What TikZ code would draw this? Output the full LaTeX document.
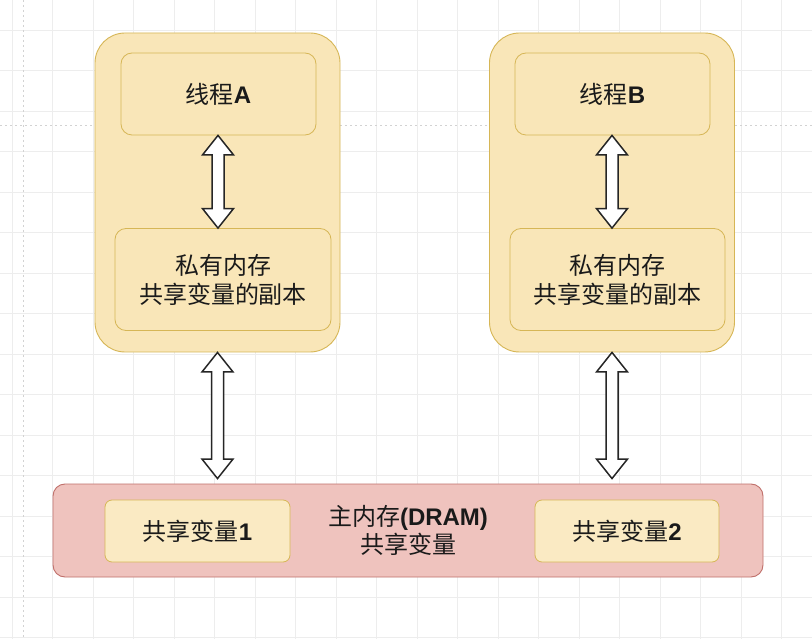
\documentclass[tikz,border=0pt]{standalone}
\usepackage{fontspec}
\setmainfont{Liberation Sans}
\newfontfamily\cjk{Noto Sans CJK SC}
\usetikzlibrary{calc}
\definecolor{yfill}{HTML}{F9E6B8}
\definecolor{ystroke}{HTML}{D6B656}
\definecolor{rfill}{HTML}{EFC3BE}
\definecolor{rstroke}{HTML}{C0706B}
\definecolor{gridc}{HTML}{EDEDED}
\definecolor{txt}{HTML}{1A1A1A}
\tikzset{
  gridline/.style={draw=gridc, line width=0.8pt},
  pagebreak/.style={draw=gray!35, line width=0.6pt, dash pattern=on 2pt off 3pt},
  outerbox/.style={draw=ystroke, fill=yfill, line width=0.9pt, rounded corners=30pt, minimum width=245pt, minimum height=319pt, inner sep=0pt},
  innerbox/.style={draw=ystroke, fill=yfill, line width=0.8pt, rounded corners=11pt, inner sep=0pt, align=center, text=txt, font=\fontsize{24}{29}\selectfont},
  membox/.style={draw=rstroke, fill=rfill, line width=0.9pt, rounded corners=12pt, minimum width=710pt, minimum height=93pt, inner sep=0pt, align=center, text=txt, font=\fontsize{24}{28.5}\selectfont},
  varbox/.style={draw=ystroke, fill=yfill!85!white, line width=0.8pt, rounded corners=7pt, minimum width=185pt, minimum height=62pt, inner sep=0pt, text=txt, font=\fontsize{24}{29}\selectfont},
  barrow/.style={draw=black!85, fill=white, line width=1.5pt, line join=miter}
}
\newcommand\dblarrow[2]{%
  \draw[barrow] let \p1=(#1), \p2=(#2) in
    (\x1,\y1) -- ++(-15.5pt,-19.5pt) -- ++(9.5pt,0pt) -- (\x1-6pt,\y2+19.5pt)
    -- ++(-9.5pt,0pt) -- (\x1,\y2) -- ++(15.5pt,19.5pt) -- ++(-9.5pt,0pt)
    -- (\x1+6pt,\y1-19.5pt) -- ++(9.5pt,0pt) -- cycle;}
\begin{document}
\begin{tikzpicture}[x=1pt,y=-1pt]
\useasboundingbox (0,0) rectangle (812,639);
\fill[white] (0,0) rectangle (812,639);
% grid
\foreach \i in {0,...,19} \draw[gridline] ({12+40.5*\i},0) -- ({12+40.5*\i},639);
\foreach \j in {0,...,15} \draw[gridline] (0,{30+40.5*\j}) -- (812,{30+40.5*\j});
\draw[pagebreak] (0,125) -- (812,125);
\draw[pagebreak] (23,0) -- (23,639);

% thread A
\node[outerbox] (oA) at (217.5,192.5) {};
\node[innerbox, minimum width=195pt, minimum height=82pt] (tA) at (218.5,94) {{\cjk 线程}\textbf{A}};
\node[innerbox, minimum width=216pt, minimum height=102pt] (pA) at (223,279.5) {{\cjk 私有内存}\\{\cjk 共享变量的副本}};
% thread B
\node[outerbox] (oB) at (612,192.5) {};
\node[innerbox, minimum width=195pt, minimum height=82pt] (tB) at (612.5,94) {{\cjk 线程}\textbf{B}};
\node[innerbox, minimum width=215pt, minimum height=102pt] (pB) at (617.5,279.5) {{\cjk 私有内存}\\{\cjk 共享变量的副本}};
% main memory
\node[membox] (mem) at (408,530.5) {{\cjk 主内存}\textbf{(DRAM)}\\{\cjk 共享变量}};
\node[varbox] (v1) at (197.5,531) {{\cjk 共享变量}\textbf{1}};
\node[varbox, minimum width=184pt] (v2) at (627,531) {{\cjk 共享变量}\textbf{2}};

% arrows
\coordinate (aTop) at ($(tA.south)+(-0.5,0)$);
\coordinate (aBot) at (aTop |- pA.north);
\dblarrow{aTop}{aBot}
\coordinate (bTop) at ($(tB.south)+(-0.5,0)$);
\coordinate (bBot) at (bTop |- pB.north);
\dblarrow{bTop}{bBot}
\coordinate (cTop) at (oA.south);
\coordinate (cBot) at ($(cTop |- mem.north)+(0,-5)$);
\dblarrow{cTop}{cBot}
\coordinate (dTop) at (oB.south);
\coordinate (dBot) at ($(dTop |- mem.north)+(0,-5)$);
\dblarrow{dTop}{dBot}
\end{tikzpicture}
\end{document}
